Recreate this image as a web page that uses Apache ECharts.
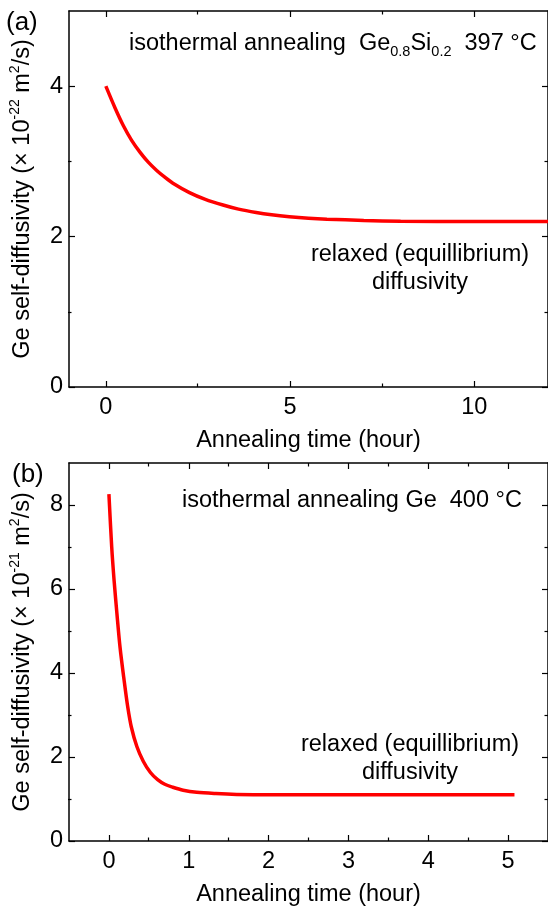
<!DOCTYPE html>
<html>
<head>
<meta charset="utf-8">
<script src="https://cdn.jsdelivr.net/npm/echarts@6/dist/echarts.min.js"></script>
<style>
  html, body { margin: 0; padding: 0; background: #fff; }
  #chart { width: 548px; height: 909px; }
</style>
</head>
<body>
<div id="chart"></div>
<script>
// panel (a): Ge0.8Si0.2 at 397 C
var timeA = [0, 0.25, 0.48, 0.7, 0.93, 1.15, 1.38, 1.6, 1.82, 2.27, 2.7, 3.18, 3.6, 4.08, 4.5, 4.98, 5.5, 6, 7, 8, 10, 12];
var diffA = [4.0, 3.71, 3.47, 3.28, 3.12, 2.99, 2.88, 2.79, 2.71, 2.585, 2.495, 2.42, 2.365, 2.32, 2.29, 2.265, 2.245, 2.232, 2.215, 2.205, 2.2, 2.2];
// panel (b): Ge at 400 C
var timeB = [0, 0.035, 0.065, 0.1, 0.14, 0.19, 0.235, 0.28, 0.35, 0.43, 0.52, 0.61, 0.7, 0.8, 0.93, 1.1, 1.34, 1.6, 2, 3, 4, 5.08];
var diffB = [8.26, 7.0, 6.2, 5.42, 4.6, 3.83, 3.2, 2.72, 2.25, 1.9, 1.63, 1.46, 1.35, 1.28, 1.21, 1.16, 1.13, 1.11, 1.1, 1.1, 1.1, 1.1];

// tick labels
var xTicksA = [0, 5, 10];
var xMinorA = [2.5, 7.5];
var yTicksA = [0, 2, 4];
var yMinorA = [1, 3];
var xTicksB = [0, 1, 2, 3, 4, 5];
var xMinorB = [0.5, 1.5, 2.5, 3.5, 4.5];
var yTicksB = [0, 2, 4, 6, 8];
var yMinorB = [1, 3, 5, 7];

var FONT = 'Liberation Sans';
var FS = 23.5;

function zip(xs, ys) {
    var out = [];
    for (var i = 0; i < xs.length; i++) out.push([xs[i], ys[i]]);
    return out;
}

var grids = [], xAxes = [], yAxes = [];

function addPanel(top, height, xr, yr, xt, xm, yt, ym, yName) {
    var g = grids.length;
    grids.push({ left: 68, top: top, width: 481, height: height });
    grids.push({ left: 68, top: top, width: 481, height: height });
    var line = { show: true, onZero: false, lineStyle: { color: '#000', width: 1.5 } };
    var noLine = { show: false, onZero: false };
    var major = function (vals) {
        return { show: true, inside: true, length: 6, customValues: vals, lineStyle: { color: '#000', width: 1.2 } };
    };
    var minor = function (vals) {
        return { show: true, inside: true, length: 3.5, customValues: vals, lineStyle: { color: '#000', width: 1.2 } };
    };
    var base = { type: 'value', splitLine: { show: false } };
    var xi = xAxes.length, yi = yAxes.length;
    // main grid
    xAxes.push(Object.assign({}, base, {
        gridIndex: g, position: 'bottom', min: xr[0], max: xr[1],
        axisLine: line, axisTick: major(xt),
        axisLabel: { customValues: xt, fontSize: FS, fontFamily: FONT, color: '#000', margin: 9 },
        name: 'Annealing time (hour)', nameLocation: 'middle', nameGap: 42,
        nameTextStyle: { fontSize: FS, fontFamily: FONT, color: '#000' }
    }));
    xAxes.push(Object.assign({}, base, {
        gridIndex: g, position: 'top', min: xr[0], max: xr[1],
        axisLine: line, axisTick: major(xt), axisLabel: { show: false }
    }));
    yAxes.push(Object.assign({}, base, {
        gridIndex: g, position: 'left', min: yr[0], max: yr[1],
        axisLine: line, axisTick: major(yt),
        axisLabel: { customValues: yt, fontSize: FS, fontFamily: FONT, color: '#000', margin: 6 },
        name: 'Ge self-diffusivity (× 10{sup|' + yName + '} m{sup|2}/s)',
        nameLocation: 'middle', nameGap: 31,
        nameTextStyle: {
            fontSize: FS, fontFamily: FONT, color: '#000', lineHeight: 30,
            rich: { sup: { fontSize: 14, fontFamily: FONT, color: '#000', lineHeight: 14, verticalAlign: 'top' } }
        }
    }));
    yAxes.push(Object.assign({}, base, {
        gridIndex: g, position: 'right', min: yr[0], max: yr[1],
        axisLine: line, axisTick: major(yt), axisLabel: { show: false }
    }));
    // overlay grid for minor ticks
    xAxes.push(Object.assign({}, base, {
        gridIndex: g + 1, position: 'bottom', min: xr[0], max: xr[1],
        axisLine: noLine, axisTick: minor(xm), axisLabel: { show: false }
    }));
    xAxes.push(Object.assign({}, base, {
        gridIndex: g + 1, position: 'top', min: xr[0], max: xr[1],
        axisLine: noLine, axisTick: minor(xm), axisLabel: { show: false }
    }));
    yAxes.push(Object.assign({}, base, {
        gridIndex: g + 1, position: 'left', min: yr[0], max: yr[1],
        axisLine: noLine, axisTick: minor(ym), axisLabel: { show: false }
    }));
    yAxes.push(Object.assign({}, base, {
        gridIndex: g + 1, position: 'right', min: yr[0], max: yr[1],
        axisLine: noLine, axisTick: minor(ym), axisLabel: { show: false }
    }));
    return { x: xi, y: yi };
}

var pa = addPanel(11, 376, [-1, 12], [0, 5], xTicksA, xMinorA, yTicksA, yMinorA, '-22');
var pb = addPanel(463, 378, [-0.5, 5.5], [0, 9], xTicksB, xMinorB, yTicksB, yMinorB, '-21');

var lineStyle = { color: '#ff0000', width: 3.5 };

var txt = function (x, y, text, align, size, rich) {
    return {
        type: 'text', x: x, y: y,
        style: {
            text: text, fill: '#000', font: size + 'px "' + FONT + '"',
            align: align, verticalAlign: 'middle',
            textAlign: align, textVerticalAlign: 'middle',
            lineHeight: 28, rich: rich || {}
        }
    };
};
var subRich = {
    n: { fontSize: FS, fontFamily: FONT, fill: '#000', lineHeight: 30 },
    s: { fontSize: 14.5, fontFamily: FONT, fill: '#000', lineHeight: 14, verticalAlign: 'bottom' }
};

var chart = echarts.init(document.getElementById('chart'));
chart.setOption({
    animation: false,
    backgroundColor: '#fff',
    grid: grids,
    xAxis: xAxes,
    yAxis: yAxes,
    series: [
        { type: 'line', xAxisIndex: pa.x, yAxisIndex: pa.y, data: zip(timeA, diffA),
          showSymbol: false, smooth: 0.3, lineStyle: lineStyle },
        { type: 'line', xAxisIndex: pb.x, yAxisIndex: pb.y, data: zip(timeB, diffB),
          showSymbol: false, smooth: 0.3, lineStyle: lineStyle }
    ],
    graphic: [
        txt(6, 23, '(a)', 'left', 26),
        txt(129, 44, '{n|isothermal annealing  Ge}{s|0.8}{n|Si}{s|0.2}{n|  397 °C}', 'left', FS, subRich),
        txt(420, 269, 'relaxed (equillibrium)\ndiffusivity', 'center', FS),
        txt(12, 475, '(b)', 'left', 26),
        txt(182, 501, 'isothermal annealing Ge  400 °C', 'left', FS),
        txt(410, 759, 'relaxed (equillibrium)\ndiffusivity', 'center', FS)
    ]
});
</script>
</body>
</html>
